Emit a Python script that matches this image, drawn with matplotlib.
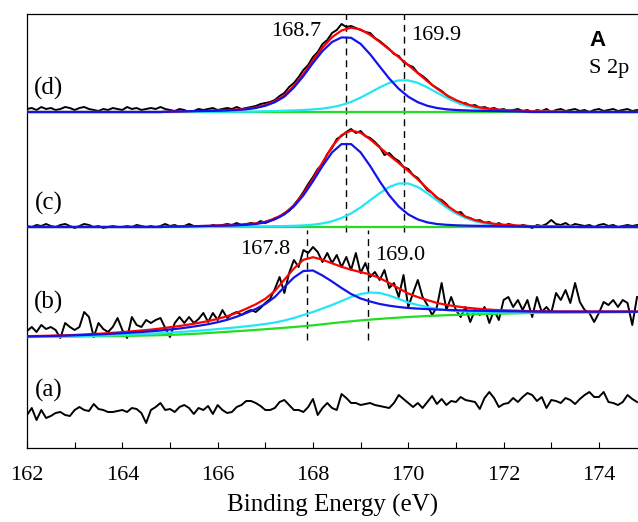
import numpy as np
import matplotlib
matplotlib.use("Agg")
import matplotlib.pyplot as plt
from matplotlib.ticker import MultipleLocator

plt.rcParams["font.family"] = ["Liberation Serif", "DejaVu Serif"]

# -- Data (intensity in a.u.) ------------------------------------------------

# raw spectra, 0.1 eV steps 162.0 .. 174.8
energy = np.linspace(162.0, 174.8, 129)

data_a = [5, 12, 0, 10, 2, 4, 7, 8, 5, 4,
          10, 13, 10, 9, 16, 11, 10, 8, 8, 9,
          10, 8, 12, 11, 7, -3, 10, 13, 17, 10,
          11, 8, 13, 15, 12, 6, 12, 10, 14, 6,
          15, 10, 7, 8, 13, 15, 19, 19, 17, 14,
          10, 10, 12, 18, 20, 15, 10, 10, 8, 13,
          21, 5, 12, 17, 12, 10, 26, 22, 17, 17,
          15, 16, 17, 15, 14, 13, 12, 17, 25, 21,
          17, 13, 17, 12, 18, 24, 16, 21, 15, 19,
          18, 23, 20, 19, 18, 11, 22, 28, 22, 13,
          16, 17, 22, 18, 23, 27, 25, 19, 23, 12,
          20, 19, 17, 22, 20, 16, 21, 25, 28, 23,
          23, 28, 18, 17, 15, 18, 25, 21, 18]

data_b = [6, 10, 5, 12, 8, 10, 7, -1, 14, 10,
          7, 10, 25, 20, 0, 14, 8, 5, 10, 19,
          7, -1, 20, 12, 10, 17, 14, 17, 19, 9,
          0, 14, 20, 14, 20, 14, 18, 24, 15, 24,
          17, 27, 19, 23, 25, 22, 25, 27, 25, 29,
          34, 38, 48, 60, 44, 64, 77, 70, 87, 84,
          90, 85, 75, 84, 74, 82, 70, 80, 67, 84,
          64, 74, 60, 65, 57, 67, 49, 54, 40, 62,
          30, 44, 57, 40, 32, 22, 30, 54, 27, 40,
          27, 20, 30, 15, 27, 22, 30, 14, 27, 17,
          37, 40, 30, 37, 27, 37, 20, 40, 25, 30,
          24, 44, 37, 47, 34, 54, 35, 27, 24, 15,
          24, 35, 32, 37, 30, 37, 34, 12, 40]

data_c = [1, 0, 2, 1, 3, 1, 0, 2, 3, 1,
          -1, 1, 3, 2, 0, 1, -1, 0, 1, 0,
          0, 1, 0, 2, 1, 0, 1, 0, 1, 3,
          1, 2, 0, 1, 3, 1, 0, 1, 0, 2,
          1, 2, 3, 2, 4, 2, 3, 4, 3, 6,
          4, 6, 9, 10, 14, 16, 22, 28, 35, 43,
          50, 58, 63, 73, 79, 88, 91, 95, 98, 94,
          96, 91, 89, 85, 80, 72, 74, 69, 66, 60,
          58, 52, 49, 43, 37, 34, 29, 27, 23, 17,
          14, 15, 10, 9, 6, 7, 4, 5, 2, 4,
          1, 3, 2, 0, 2, 1, -1, 2, 1, 3,
          7, 3, 2, 4, 1, 3, 2, 1, 2, 0,
          2, 3, 1, 2, 0, 1, 2, 1, 2]

data_d = [3, 4, 2, 5, 3, 4, 2, 3, 5, 4,
          2, 4, 5, 3, 2, 1, 3, 2, 4, 3,
          2, 5, 3, 4, 2, 3, 4, 3, 5, 3,
          2, 1, 3, 2, 0, 1, 3, 2, 3, 4,
          2, 3, 4, 3, 5, 3, 4, 5, 6, 8,
          9, 10, 12, 16, 19, 25, 29, 35, 42, 47,
          55, 60, 68, 72, 79, 82, 88, 85, 86, 84,
          82, 80, 79, 74, 71, 67, 63, 58, 56, 50,
          47, 45, 39, 36, 32, 27, 24, 21, 17, 12,
          11, 8, 9, 6, 7, 4, 5, 3, 4, 2,
          3, 1, 2, 3, 1, 2, 0, 2, 1, 3,
          0, 2, 3, 1, 2, 3, 1, 2, 0, 2,
          3, 1, 2, 3, 1, 2, 3, 1, 2]

# fitted curves, 0.2 eV steps 162.0 .. 174.8
energy_fit = np.linspace(162.0, 174.8, 65)

bg_b = [0.0, 0.1, 0.2, 0.3, 0.4, 0.5, 0.6, 0.7, 0.8, 0.9,
        1.0, 1.2, 1.4, 1.6, 1.8, 2.1, 2.5, 2.9, 3.4, 4.0,
        4.6, 5.2, 5.8, 6.4, 7.1, 7.8, 8.5, 9.2, 10.0, 10.8,
        11.7, 12.7, 13.8, 14.8, 15.7, 16.6, 17.4, 18.1, 18.8, 19.4,
        20.0, 20.5, 21.0, 21.4, 21.8, 22.1, 22.4, 22.7, 23.0, 23.2,
        23.4, 23.6, 23.8, 24.0, 24.1, 24.2, 24.3, 24.4, 24.5, 24.6,
        24.7, 24.8, 24.8, 24.9, 25.0]
low_b = [0.5, 0.7, 0.9, 1.1, 1.4, 1.7, 2.0, 2.4, 2.8, 3.3,
         3.8, 4.4, 5.0, 5.7, 6.5, 7.5, 8.5, 9.8, 11.2, 12.8,
         14.8, 17.2, 20.3, 24.0, 28.0, 33.0, 40.0, 50.0, 59.5, 66.0,
         66.5, 61.5, 55.5, 49.0, 43.0, 38.5, 35.5, 33.0, 31.3, 30.0,
         29.0, 28.4, 27.9, 27.5, 27.1, 26.8, 26.5, 26.3, 26.1, 25.9,
         25.8, 25.7, 25.6, 25.5, 25.4, 25.4, 25.3, 25.3, 25.3, 25.3,
         25.3, 25.3, 25.3, 25.3, 25.3]
high_b = [0.3, 0.4, 0.5, 0.6, 0.7, 0.9, 1.1, 1.3, 1.5, 1.8,
          2.1, 2.5, 2.9, 3.3, 3.8, 4.4, 5.0, 5.6, 6.3, 7.1,
          7.9, 8.8, 9.7, 10.7, 11.8, 13.0, 14.5, 16.5, 19.0, 22.0,
          25.0, 28.5, 32.0, 36.0, 40.0, 43.0, 44.5, 44.0, 41.5, 38.0,
          34.5, 32.0, 30.0, 28.0, 26.8, 26.0, 25.3, 24.9, 24.6, 24.4,
          24.3, 24.3, 24.3, 24.3, 24.3, 24.4, 24.5, 24.6, 24.7, 24.8,
          24.9, 25.0, 25.0, 25.1, 25.1]
env_b = [0.8, 1.0, 1.2, 1.4, 1.7, 2.1, 2.5, 3.0, 3.5, 4.2,
         4.9, 5.7, 6.5, 7.4, 8.5, 9.8, 11.0, 12.5, 14.1, 15.9,
         18.1, 20.8, 24.2, 28.3, 32.7, 38.2, 46.0, 57.3, 68.5, 77.2,
         79.8, 77.3, 73.7, 70.2, 67.3, 64.9, 62.6, 58.9, 54.0, 48.6,
         43.5, 39.9, 36.9, 34.1, 32.1, 30.7, 29.4, 28.5, 27.7, 27.1,
         26.7, 26.4, 26.1, 25.8, 25.6, 25.6, 25.5, 25.5, 25.5, 25.5,
         25.5, 25.5, 25.5, 25.5, 25.4]

bg_c = [0.0] * 65
low_c = [0, 0, 0, 0, 0, 0, 0, 0, 0, 0, 0, 0, 0, 0, 0,
         0.4, 0.5, 0.7, 0.9, 1.1, 1.2, 1.4, 1.7, 2.2, 3.0,
         4.6, 7.6, 12.6, 20.5, 31.7, 45.7, 61.0, 74.6, 82.9, 82.9,
         74.6, 61.0, 45.7, 31.7, 20.5, 12.6, 7.6, 4.6, 3.0, 2.2,
         1.7, 1.4, 1.2, 1.1, 0.9, 0.7, 0.5, 0.4,
         0, 0, 0, 0, 0, 0, 0, 0, 0, 0, 0, 0]
high_c = [0, 0, 0, 0, 0, 0, 0, 0, 0, 0, 0, 0, 0, 0, 0, 0, 0, 0, 0, 0,
          0.4, 0.4, 0.5, 0.5, 0.6, 0.7, 0.8, 0.9, 1.2, 1.6,
          2.3, 3.6, 5.7, 9.0, 13.6, 19.6, 26.7, 33.8, 40.0, 43.5,
          43.5, 40.0, 33.8, 26.7, 19.6, 13.6, 9.0, 5.7, 3.6, 2.3,
          1.6, 1.2, 0.9, 0.8, 0.7, 0.6, 0.5, 0.4,
          0, 0, 0, 0, 0, 0, 0]
env_c = [0, 0, 0, 0, 0, 0, 0, 0, 0, 0, 0, 0, 0, 0, 0,
         0.4, 0.5, 0.7, 0.9, 1.1, 1.6, 1.8, 2.2, 2.7, 3.6,
         5.3, 8.4, 13.5, 21.7, 33.3, 48.0, 64.6, 80.3, 91.9, 96.5,
         94.2, 87.7, 79.5, 71.7, 64.0, 56.1, 47.6, 38.4, 29.7, 21.8,
         15.3, 10.4, 6.9, 4.7, 3.2, 2.3, 1.7, 1.3, 0.8, 0.7,
         0.6, 0.5, 0.4,
         0, 0, 0, 0, 0, 0, 0]

bg_d = [0.0] * 65
low_d = [0, 0, 0, 0, 0, 0, 0, 0, 0, 0, 0, 0, 0, 0, 0,
         0.4, 0.6, 0.8, 1.0, 1.1, 1.3, 1.6, 2.0, 2.7, 4.0,
         6.2, 9.8, 15.3, 24.5, 36.0, 49.0, 61.0, 70.0, 74.6, 74.2,
         68.1, 57.7, 45.5, 33.5, 23.2, 15.3, 9.8, 6.2, 4.0, 2.7,
         2.0, 1.6, 1.3, 1.1, 1.0, 0.8, 0.6, 0.4,
         0, 0, 0, 0, 0, 0, 0, 0, 0, 0, 0, 0]
high_d = [0, 0, 0, 0, 0, 0, 0, 0, 0, 0, 0, 0, 0, 0, 0, 0, 0, 0, 0, 0,
          0.3, 0.3, 0.4, 0.4, 0.5, 0.8, 1.0, 1.3, 1.6, 2.0,
          2.6, 3.4, 4.8, 6.9, 10.1, 14.4, 19.4, 24.6, 29.1, 31.6,
          31.6, 29.1, 24.6, 19.4, 14.3, 9.9, 6.5, 4.2, 2.6, 1.7,
          1.2, 0.9, 0.7, 0.6, 0.5, 0.4, 0.3,
          0, 0, 0, 0, 0, 0, 0, 0]
env_d = [0, 0, 0, 0, 0, 0, 0, 0, 0, 0, 0, 0, 0, 0, 0,
         0.4, 0.6, 0.8, 1.0, 1.1, 1.6, 1.9, 2.4, 3.1, 4.5,
         7.0, 10.8, 16.6, 26.1, 38.0, 51.6, 64.4, 74.8, 81.5, 84.3,
         82.5, 77.1, 70.1, 62.6, 54.8, 46.9, 38.9, 30.8, 23.4, 17.0,
         11.9, 8.1, 5.5, 3.7, 2.7, 2.0, 1.5, 1.1, 0.6, 0.5,
         0.4, 0.3,
         0, 0, 0, 0, 0, 0, 0, 0]

# peak positions marked by dashed lines
peaks_b = [167.87, 169.15]
peaks_cd = [168.7, 169.9]
peak_labels_b = ["167.8", "169.0"]
peak_labels_cd = ["168.7", "169.9"]

# -- Style -------------------------------------------------------------------

RED = "#FF0000"
BLUE = "#1414E8"
CYAN = "#22E6F6"
GREEN = "#22DD22"

OFFSETS = {"a": 28, "b": 111, "c": 221, "d": 336}

fig = plt.figure(figsize=(6.38, 5.22), dpi=100)
ax = fig.add_axes([27 / 638, 74 / 522, 611 / 638, 434 / 522])

# raw spectra
for key, ys in (("a", data_a), ("b", data_b), ("c", data_c), ("d", data_d)):
    ax.plot(energy, np.array(ys) + OFFSETS[key], color="black", lw=1.4,
            zorder=2)

# fitted components
fits = {"b": (bg_b, high_b, low_b, env_b),
        "c": (bg_c, high_c, low_c, env_c),
        "d": (bg_d, high_d, low_d, env_d)}
for key, (bg, hi, lo, env) in fits.items():
    off = OFFSETS[key]
    ax.plot(energy_fit, np.array(bg) + off, color=GREEN, lw=1.6, zorder=3)
    ax.plot(energy_fit, np.array(hi) + off, color=CYAN, lw=1.6, zorder=4)
    ax.plot(energy_fit, np.array(env) + off, color=RED, lw=1.6, zorder=5)
    ax.plot(energy_fit, np.array(lo) + off, color=BLUE, lw=1.6, zorder=6)

# dashed peak markers
for xp in peaks_cd:
    ax.plot([xp, xp], [216, 434], color="black", lw=1.0,
            ls=(0, (5, 3.5)), zorder=1)
for xp in peaks_b:
    ax.plot([xp, xp], [108, 218], color="black", lw=1.0,
            ls=(0, (5, 3.5)), zorder=1)

# peak labels
ax.text(167.64, 416, peak_labels_cd[0], ha="center", va="center", fontsize=16)
ax.text(170.58, 413, peak_labels_cd[1], ha="center", va="center", fontsize=16)
ax.text(166.99, 198, peak_labels_b[0], ha="center", va="center", fontsize=16)
ax.text(169.83, 193, peak_labels_b[1], ha="center", va="center", fontsize=16)

# trace labels
for key, y in (("d", 360), ("c", 245), ("b", 146), ("a", 58)):
    ax.text(162.46, y, f"({key})", ha="center", va="center", fontsize=18)

ax.text(173.98, 408, "A", ha="center", va="center", fontsize=16,
        fontweight="bold", family="Liberation Sans")
ax.text(174.21, 380, "S 2p", ha="center", va="center", fontsize=16)

# axes
ax.set_xlim(162, 174.82)
ax.set_ylim(0, 434)
ax.set_yticks([])
ax.xaxis.set_major_locator(MultipleLocator(2))
ax.xaxis.set_minor_locator(MultipleLocator(1))
ax.tick_params(axis="x", which="both", direction="in", length=4.5, width=0.8,
               labelsize=16, pad=13)
ax.spines["right"].set_visible(False)
for s in ("left", "top", "bottom"):
    ax.spines[s].set_linewidth(0.9)

ax.set_xlabel("Binding Energy (eV)", fontsize=18)
ax.xaxis.set_label_coords(0.5, -0.105)

fig.savefig("out.png", dpi=100)
